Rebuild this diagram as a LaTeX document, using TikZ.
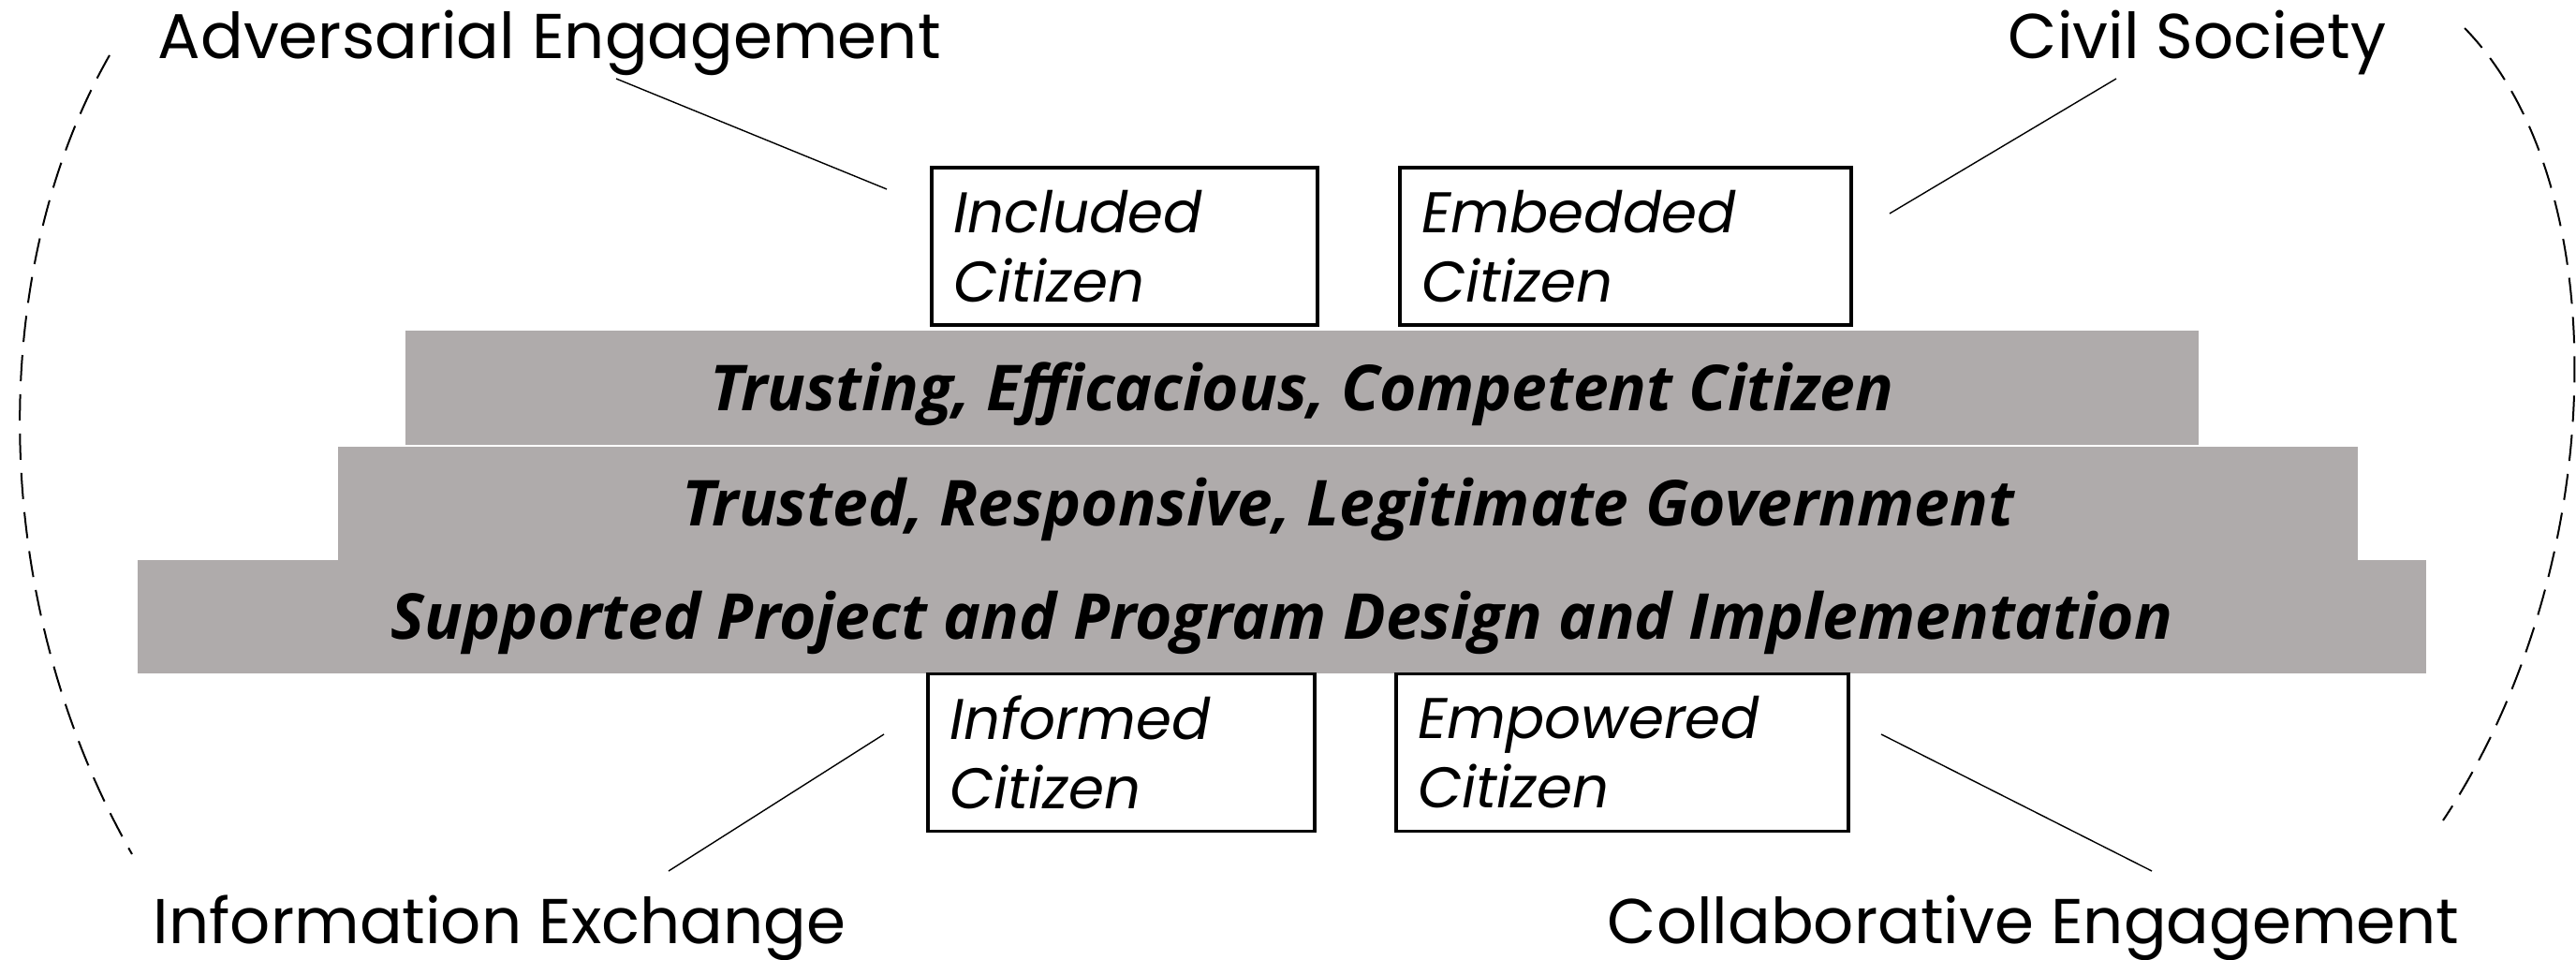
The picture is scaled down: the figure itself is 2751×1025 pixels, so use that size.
\documentclass[tikz,border=0pt]{standalone}
\usepackage{fontspec}
\newfontfamily\labelfont{Poppins}
\newfontfamily\barfont{Open Sans}
\definecolor{bargray}{HTML}{AFABAB}
\begin{document}
\begin{tikzpicture}[x=0.25pt,y=-0.25pt,
  tier/.style={fill=bargray,draw=none,inner sep=0pt,
    text height=12.07pt,text depth=0pt,
    font=\barfont\bfseries\itshape\fontsize{16.9}{19}\selectfont},
  citbox/.style={draw=black,line width=0.8pt,fill=white,inner sep=0pt,
    minimum height=168*0.25pt,align=left,
    font=\labelfont\itshape\fontsize{15.3}{18.5}\selectfont},
  mode/.style={font=\labelfont\fontsize{16.9}{19}\selectfont,inner sep=0pt,anchor=base west},
  leader/.style={line width=0.35pt},
  bracket/.style={line width=0.5pt,dash pattern=on 7pt off 3.5pt}]
\useasboundingbox (0,0) rectangle (2751,1025);

% three stacked tiers
\node[tier,minimum width=1915*0.25pt,minimum height=122*0.25pt] (t1) at (1390.5,414)
  {Trusting, Efficacious, Competent Citizen};
\node[tier,minimum width=2157*0.25pt,minimum height=121*0.25pt] (t2) at (1439.5,537.5)
  {Trusted, Responsive, Legitimate Government};
\node[tier,minimum width=2444*0.25pt,minimum height=121*0.25pt] (t3) at (1369,658.5)
  {Supported Project and Program Design and Implementation};

% citizen boxes
\node[citbox,text width=(412-46)*0.25pt,minimum width=412*0.25pt] (inc) at (1201,263)
  {Included\\Citizen};
\node[citbox,text width=(482-46)*0.25pt,minimum width=482*0.25pt] (emb) at (1736,263)
  {Embedded\\Citizen};
\node[citbox,text width=(413-46)*0.25pt,minimum width=413*0.25pt] (inf) at (1197.5,803.5)
  {Informed\\Citizen};
\node[citbox,text width=(483-46)*0.25pt,minimum width=483*0.25pt] (emp) at (1732.5,803.5)
  {Empowered\\Citizen};

% engagement modes
\node[mode] (adv) at (168,63) {Adversarial Engagement};
\node[mode] (civ) at (2144,63) {Civil Society};
\node[mode] (ixc) at (163,1007) {Information Exchange};
\node[mode] (col) at (1716,1007) {Collaborative Engagement};

% leader lines
\coordinate (advA) at (658,84);  \coordinate (advB) at (947,202);
\coordinate (civA) at (2260,84); \coordinate (civB) at (2018,228);
\coordinate (ixcA) at (714,930); \coordinate (ixcB) at (944,784);
\coordinate (colA) at (2298,930);\coordinate (colB) at (2009,784);
\draw[leader] (advA) -- (advB);
\draw[leader] (civA) -- (civB);
\draw[leader] (ixcA) -- (ixcB);
\draw[leader] (colA) -- (colB);

% dashed brackets
\coordinate (lTop) at (117,59);  \coordinate (lBot) at (141,912);
\coordinate (rTop) at (2632,30); \coordinate (rBot) at (2609,876);
\draw[bracket] (lTop) .. controls (-15,290) and (-14,640) .. (lBot);
\draw[bracket] (rTop) .. controls (2798,200) and (2786,610) .. (rBot);
\end{tikzpicture}
\end{document}
